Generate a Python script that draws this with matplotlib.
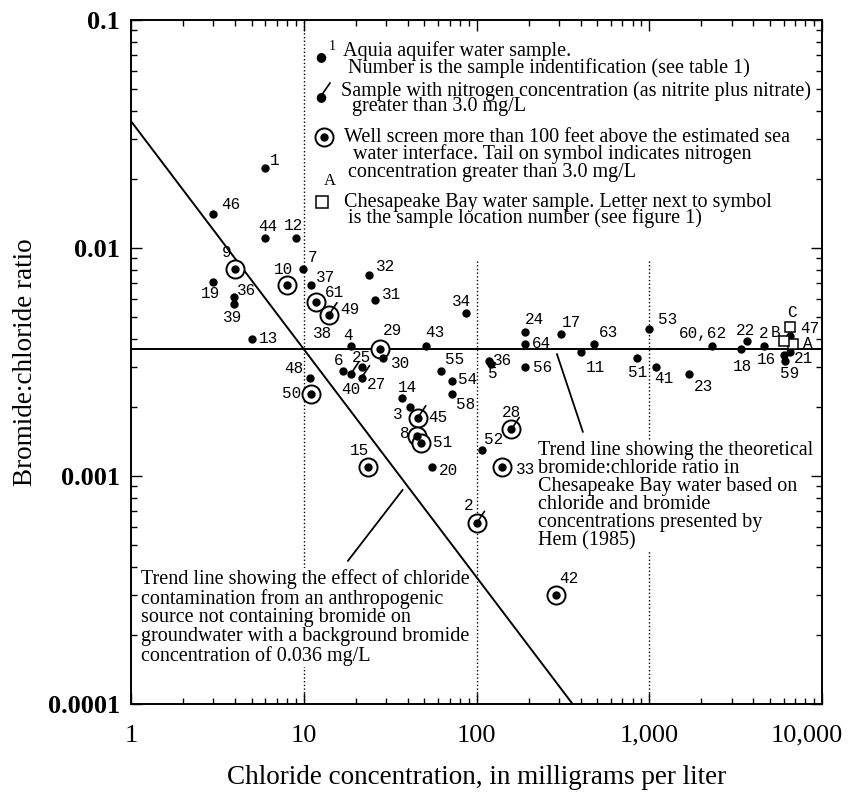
import matplotlib
matplotlib.use('Agg')
import matplotlib.pyplot as plt
from matplotlib.ticker import FixedLocator, FixedFormatter, LogLocator, NullFormatter

'''
Bromide:chloride ratio vs chloride concentration for Aquia aquifer and
Chesapeake Bay water samples.
'''

plt.rcParams['font.family'] = ['Liberation Serif', 'DejaVu Serif']

# aquia aquifer samples
sampleIds = ['1', '46', '44', '12', '9', '10', '7', '19', '37', '36',
             '39', '61', '49', '32', '31', '34', '13', '4', '29', '30',
             '43', '6', '40', '25', '27', '48', '50', '14', '3', '45',
             '8', '51', '55', '54', '58', '36', '5', '52', '20', '24',
             '64', '56', '17', '11', '63', '53', '51', '41', '23', '60,62',
             '18', '22', '2', '47', '16', '21', '59', '28', '33', '2',
             '15', '42']
chloride = [6.0, 3.0, 6.0, 9.0, 4.0, 8.0, 9.9, 3.0, 11.0, 3.95,
            3.95, 11.8, 14.0, 24, 25.8, 87, 5.0, 18.7, 27.8, 28.8,
            50.7, 16.8, 18.7, 21.6, 21.6, 10.9, 11.0, 36.8, 41, 45.7,
            45, 48, 62.7, 72, 72, 118, 121, 108, 55.6, 190,
            190, 190, 310, 400, 480, 1000, 855, 1100, 1700, 2300,
            3400, 3700, 4600, 6500, 6000, 6500, 6100, 159, 140, 100,
            23.7, 290]
ratio = [0.0224, 0.0141, 0.0111, 0.0111, 0.0081, 0.0069, 0.0081, 0.0071, 0.0069, 0.0061,
         0.0057, 0.0058, 0.0051, 0.0076, 0.0059, 0.0052, 0.0040, 0.0037, 0.0036, 0.0033,
         0.0037, 0.0029, 0.0028, 0.0030, 0.0027, 0.0027, 0.0023, 0.0022, 0.0020, 0.0018,
         0.0015, 0.0014, 0.0029, 0.0026, 0.0023, 0.0032, 0.0031, 0.0013, 0.0011, 0.0043,
         0.0038, 0.0030, 0.0042, 0.0035, 0.0038, 0.0044, 0.0033, 0.0030, 0.0028, 0.0037,
         0.0036, 0.0039, 0.0037, 0.0041, 0.0034, 0.0035, 0.0032, 0.0016, 0.0011, 0.00062,
         0.0011, 0.0003]
# index of wells screened more than 100 ft above the sea water interface
circledIdx = [4, 5, 11, 12, 18, 26, 29, 30, 31, 57, 58, 59, 60, 61]
# index of samples with nitrogen > 3.0 mg/L
tailIdx = [12, 22, 24, 29, 57, 59]

# chesapeake bay samples
bayIds = ['A', 'B', 'C']
bayChloride = [6800, 6000, 6500]
bayRatio = [0.0038, 0.0039, 0.0045]

bgBromide = 0.036      # mg/L background bromide
hemRatio = 0.0036      # Hem (1985) bay water ratio

xTicks = [1, 10, 100, 1000, 10000]
xTickLabels = ['1', '10', '100', '1,000', '']
yTicks = [0.0001, 0.001, 0.01, 0.1]
yTickLabels = ['0.0001', '0.001', '0.01', '0.1']

# label offsets in pixels (right, up)
labelOffsets = [(9, 8), (17, 9), (2, 11), (-2, 12), (-8, 16), (-4, 15), (10, 11), (-3, -12), (15, 7), (13, 6),
                (-1, -14), (18, 9), (21, 5), (16, 9), (17, 6), (-4, 11), (17, 0), (-3, 11), (12, 19), (17, -6),
                (9, 14), (-4, 10), (0, -15), (0, 10), (15, -7), (-16, 9), (-19, 0), (6, 10), (-12, -7), (20, 0),
                (-12, 2), (21, 0), (13, 11), (16, 2), (14, -11), (14, 0), (2, -10), (11, 11), (16, -4), (10, 12),
                (17, 0), (18, 0), (10, 11), (15, -16), (14, 11), (18, 10), (0, -15), (7, -11), (14, -12), (-9, 13),
                (1, -17), (-2, 11), (0, 13), (20, 8), (-17, -5), (14, -7), (5, -13), (0, 17), (24, -3), (-8, 18),
                (-9, 16), (12, 17)]
bayOffsets = [(15, 0), (-8, 9), (2, 15)]

# graph settings
tickFont = 19
labelFont = 19.5
legFont = 14.5
noteFont = 14.5
idFont = 11.5

figW, figH = 859, 796
fig = plt.figure(figsize=(figW / 100, figH / 100), dpi=100)
ax = fig.add_axes([131 / figW, 1 - 704 / figH, (822 - 131) / figW, (704 - 20) / figH])
ax.set_xscale('log')
ax.set_yscale('log')
ax.set_xlim(1, 10000)
ax.set_ylim(0.0001, 0.1)


def figPt(x, y):
    '''pixel position on the page to figure fraction'''
    return (x / figW, 1 - y / figH)


# reference lines
ax.plot([1, 10000], [hemRatio, hemRatio], color='black', lw=1.4, zorder=2)
clEnd = bgBromide / 0.0001
ax.plot([1, clEnd], [bgBromide / 1, bgBromide / clEnd], color='black', lw=1.4, zorder=2)
ax.plot([10, 10], [0.0001, 0.1], color='black', lw=1.0, ls=':', zorder=1)
ax.plot([100, 100], [0.0001, 0.0089], color='black', lw=1.0, ls=':', zorder=1)
ax.plot([1000, 1000], [0.0001, 0.0089], color='black', lw=1.0, ls=':', zorder=1)

# samples
for i in range(len(sampleIds)):
    x, y = chloride[i], ratio[i]
    ax.plot(x, y, 'o', color='black', ms=5, zorder=4)
    if i in circledIdx:
        ax.plot(x, y, 'o', mfc='white', mec='black', ms=13, mew=1.4, zorder=3)
    if i in tailIdx:
        ax.annotate('', xy=(x, y), xytext=(8, 12), textcoords='offset pixels',
                    arrowprops=dict(arrowstyle='-', lw=1.2, color='black', shrinkA=0, shrinkB=0),
                    zorder=4)
    dx, dy = labelOffsets[i]
    ax.annotate(sampleIds[i], xy=(x, y), xytext=(dx, dy), textcoords='offset pixels',
                ha='center', va='center', fontsize=idFont, family='Liberation Mono', zorder=5)

# point 38 sits on the line intersection
ax.annotate('38', xy=(bgBromide / hemRatio, hemRatio), xytext=(19, 16), textcoords='offset pixels',
            ha='center', va='center', fontsize=idFont, family='Liberation Mono')

for i in range(len(bayIds)):
    ax.plot(bayChloride[i], bayRatio[i], 's', mfc='white', mec='black', ms=7, mew=1.1, zorder=5)
    dx, dy = bayOffsets[i]
    ax.annotate(bayIds[i], xy=(bayChloride[i], bayRatio[i]), xytext=(dx, dy), textcoords='offset pixels',
                ha='center', va='center', fontsize=idFont, family='Liberation Mono', zorder=5)

# legend block
fig.text(*figPt(321, 57), '\u25cf', fontsize=9, ha='center', va='center', family='DejaVu Sans')
fig.text(*figPt(332, 47), '1', fontsize=10, ha='center', va='center')
fig.text(*figPt(343, 51), 'Aquia aquifer water sample.', fontsize=legFont, va='center')
fig.text(*figPt(348, 68), 'Number is the sample indentification (see table 1)', fontsize=legFont, va='center')

fig.text(*figPt(321, 97), '\u25cf', fontsize=9, ha='center', va='center', family='DejaVu Sans')
fig.add_artist(plt.Line2D([321 / figW, 330 / figW], [1 - 96 / figH, 1 - 83 / figH],
                          color='black', lw=1.2, transform=fig.transFigure))
fig.text(*figPt(341, 91), 'Sample with nitrogen concentration (as nitrite plus nitrate)',
         fontsize=legFont, va='center')
fig.text(*figPt(352, 107), 'greater than 3.0 mg/L', fontsize=legFont, va='center')

fig.add_artist(plt.Line2D([324 / figW], [1 - 137 / figH], marker='o', ms=13, mfc='white', mec='black',
                          mew=1.4, transform=fig.transFigure))
fig.add_artist(plt.Line2D([324 / figW], [1 - 137 / figH], marker='o', ms=5, color='black',
                          transform=fig.transFigure))
fig.text(*figPt(344, 137), 'Well screen more than 100 feet above the estimated sea', fontsize=legFont, va='center')
fig.text(*figPt(353, 154), 'water interface. Tail on symbol indicates nitrogen', fontsize=legFont, va='center')
fig.text(*figPt(348, 172), 'concentration greater than 3.0 mg/L', fontsize=legFont, va='center')

fig.add_artist(plt.Line2D([322 / figW], [1 - 202 / figH], marker='s', ms=9, mfc='white', mec='black',
                          mew=1.1, transform=fig.transFigure))
fig.text(*figPt(330, 181), 'A', fontsize=12, ha='center', va='center')
fig.text(*figPt(344, 202), 'Chesapeake Bay water sample. Letter next to symbol', fontsize=legFont, va='center')
fig.text(*figPt(348, 218), 'is the sample location number (see figure 1)', fontsize=legFont, va='center')

# trend line notes
ax.annotate('', xy=(37.4, 0.00087), xytext=(18.0, 0.000424),
            arrowprops=dict(arrowstyle='-', lw=1.3, color='black', shrinkA=0, shrinkB=0))
ax.text(*figPt(141, 569), 'Trend line showing the effect of chloride\n'
        'contamination from an anthropogenic\n'
        'source not containing bromide on\n'
        'groundwater with a background bromide\n'
        'concentration of 0.036 mg/L', fontsize=noteFont, va='top', ha='left', linespacing=0.98,
        transform=fig.transFigure, zorder=1.5,
        bbox=dict(facecolor='white', edgecolor='none', pad=1))

ax.annotate('', xy=(413, 0.00156), xytext=(292, 0.00343),
            arrowprops=dict(arrowstyle='-', lw=1.3, color='black', shrinkA=0, shrinkB=0))
ax.text(*figPt(538, 441), 'Trend line showing the theoretical\n'
        'bromide:chloride ratio in\n'
        'Chesapeake Bay water based on\n'
        'chloride and bromide\n'
        'concentrations presented by\n'
        'Hem (1985)', fontsize=noteFont, va='top', ha='left', linespacing=0.93,
        transform=fig.transFigure, zorder=1.5,
        bbox=dict(facecolor='white', edgecolor='none', pad=1))

# axes styling
ax.xaxis.set_major_locator(FixedLocator(xTicks))
ax.xaxis.set_major_formatter(FixedFormatter(xTickLabels))
ax.yaxis.set_major_locator(FixedLocator(yTicks))
ax.yaxis.set_major_formatter(FixedFormatter(yTickLabels))
ax.xaxis.set_minor_locator(LogLocator(base=10, subs=range(2, 10)))
ax.yaxis.set_minor_locator(LogLocator(base=10, subs=range(2, 10)))
ax.xaxis.set_minor_formatter(NullFormatter())
ax.yaxis.set_minor_formatter(NullFormatter())
ax.tick_params(which='both', direction='in', top=True, right=True, width=1.0)
ax.tick_params(which='major', length=8)
ax.tick_params(which='minor', length=4)
ax.tick_params(axis='x', labelsize=tickFont, pad=15)
ax.tick_params(axis='y', labelsize=tickFont, pad=8)
for lab in ax.get_yticklabels():
    lab.set_fontweight('bold')
for sp in ax.spines.values():
    sp.set_linewidth(1.4)

# last x label shifted left to stay on the page
ax.annotate('10,000', xy=(10000, 0), xycoords=('data', 'axes fraction'), xytext=(-15, -31),
            textcoords='offset pixels', ha='center', va='center', fontsize=tickFont)

ax.set_xlabel('Chloride concentration, in milligrams per liter', fontsize=labelFont, labelpad=13)
ax.set_ylabel('Bromide:chloride ratio', fontsize=labelFont, labelpad=7)

plt.savefig('out.png', dpi=100)
